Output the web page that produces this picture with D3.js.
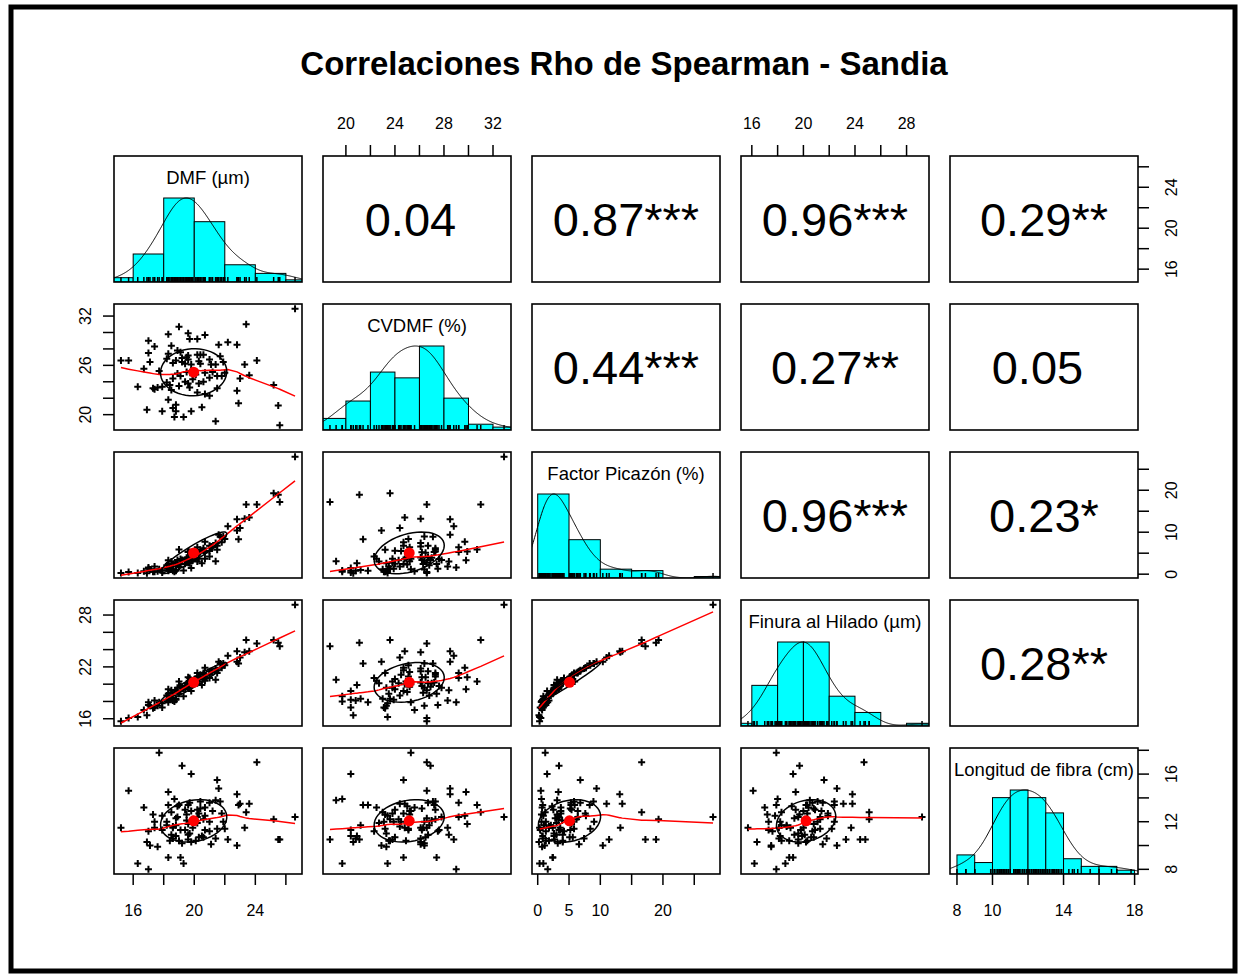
<!DOCTYPE html>
<html>
<head>
<meta charset="utf-8">
<style>
  body { margin: 0; background: #fff; }
  text { font-family: "Liberation Sans", Arial, sans-serif; fill: #000; }
</style>
</head>
<body>
<svg width="1242" height="978"></svg>
<script src="https://d3js.org/d3.v7.min.js"></script>
<script>
// one row per fleece sample, same order in every array
var dmf = [15.2,15.7,16.3,16.7,16.9,17.0,17.0,17.1,17.3,17.4,
  17.4,17.6,17.7,17.9,17.9,18.2,18.2,18.3,18.3,18.3,
  18.4,18.5,18.5,18.6,18.6,18.6,18.7,18.8,18.8,18.8,
  18.9,18.9,19.0,19.0,19.1,19.1,19.2,19.2,19.3,19.4,
  19.4,19.5,19.5,19.6,19.6,19.6,19.6,19.7,19.7,19.8,
  19.8,19.8,19.9,19.9,20.1,20.2,20.2,20.2,20.3,20.3,
  20.4,20.4,20.5,20.6,20.6,20.7,20.7,20.7,21.0,21.0,
  21.0,21.1,21.2,21.4,21.4,21.5,21.5,21.6,21.7,21.8,
  21.9,22.0,22.2,22.8,22.8,22.9,23.0,23.3,23.4,23.6,
  24.1,25.2,25.5,25.6,26.6]
var cvdmf = [26.6,26.6,23.4,25.6,20.6,29.0,27.5,26.4,23.2,28.3,
  23.1,23.3,25.3,23.4,20.4,26.8,23.9,29.8,21.8,27.4,
  23.6,28.4,23.0,26.3,20.8,24.4,19.7,21.2,20.4,26.6,
  27.8,25.0,30.7,23.5,27.6,24.7,26.4,26.9,19.7,24.0,
  26.2,25.2,27.0,29.9,27.2,23.8,26.7,29.2,23.3,25.3,
  20.4,26.1,24.3,24.8,24.9,29.2,27.3,22.7,23.8,26.5,
  27.3,26.2,20.9,27.3,24.0,29.7,25.1,22.5,24.5,22.3,
  26.7,26.1,25.2,26.1,19.2,24.7,23.2,28.5,27.1,24.7,
  26.4,25.1,28.8,28.5,22.9,21.4,24.4,26.1,31.0,24.8,
  26.6,23.6,21.1,18.7,32.9]
var picazon = [0.3,0.5,0.3,0.7,0.2,1.6,1.3,1.1,0.6,1.8,
  0.6,0.7,1.2,0.9,0.4,2.1,1.3,3.3,0.8,2.4,
  1.3,3.0,1.2,2.4,0.8,1.8,0.6,1.0,0.8,2.8,
  3.4,2.3,5.9,1.8,3.6,2.4,3.2,3.4,0.9,2.5,
  3.4,3.1,3.9,5.4,5.3,2.7,4.0,5.3,2.6,3.7,
  1.5,4.0,3.3,3.6,4.0,6.4,5.4,3.0,3.7,5.1,
  5.8,5.2,2.6,6.2,5.6,7.7,5.2,3.7,5.5,4.2,
  6.8,6.6,6.4,7.4,3.1,6.8,5.8,9.4,8.9,7.6,
  9.0,8.4,11.4,13.1,10.4,8.3,11.0,13.2,16.6,13.5,
  16.6,19.3,18.9,17.2,28.0]
var finura = [15.7,16.1,16.2,17.0,16.4,17.9,17.6,17.5,17.2,18.1,
  17.3,17.5,17.9,17.8,17.3,18.7,18.2,19.4,17.9,18.9,
  18.3,19.3,18.3,19.0,18.1,18.7,18.0,18.3,18.2,19.3,
  19.6,19.1,20.3,18.9,19.8,19.2,19.6,19.7,18.6,19.4,
  19.8,19.7,20.1,20.8,20.2,19.6,20.1,20.7,19.6,20.0,
  19.2,20.2,20.1,20.0,20.3,21.3,20.9,20.1,20.3,20.8,
  21.1,20.8,19.9,21.3,20.6,21.9,20.9,20.4,21.1,20.7,
  21.5,21.5,21.4,21.8,20.5,21.6,21.3,22.6,22.4,21.9,
  22.4,22.2,23.3,23.8,22.6,22.4,23.1,23.7,25.1,23.8,
  24.7,25.1,24.8,24.4,29.2]
var longitud = [11.5,14.6,8.5,13.2,10.3,8.0,11.2,10.0,12.6,11.5,
  12.0,9.9,17.8,12.5,11.3,11.7,12.0,14.5,13.4,9.0,
  10.4,10.9,12.8,11.5,10.6,11.6,13.9,11.7,10.8,12.3,
  12.4,13.3,13.4,10.4,11.3,9.0,10.2,16.7,8.5,13.0,
  11.3,12.6,12.1,11.8,13.4,10.5,10.9,13.6,11.0,12.9,
  16.0,10.3,12.2,11.5,10.4,12.4,13.0,11.9,12.7,10.7,
  13.7,13.1,10.8,12.2,10.7,12.5,11.3,13.2,12.0,11.2,
  13.6,10.1,12.9,10.6,13.8,15.5,11.4,14.8,13.7,12.7,
  12.0,11.4,10.5,14.3,10.0,13.4,13.5,11.5,12.8,13.5,
  17.0,12.2,10.5,10.5,12.4]

var varNames = ["DMF (µm)", "CVDMF (%)", "Factor Picazón (%)", "Finura al Hilado (µm)", "Longitud de fibra (cm)"]
var histStep = [2, 2, 5, 2, 1]

// Spearman rho with stars, upper triangle, row by row
var corLabels = {
  "0-1": "0.04", "0-2": "0.87***", "0-3": "0.96***", "0-4": "0.29**",
  "1-2": "0.44***", "1-3": "0.27**", "1-4": "0.05",
  "2-3": "0.96***", "2-4": "0.23*",
  "3-4": "0.28**"
}

// axis ticks and the labels R kept on them
var dmfTicks = [16, 18, 20, 22, 24, 26], dmfLabels = [16, 20, 24]
var cvTicks = [20, 22, 24, 26, 28, 30, 32], cvTopLabels = [20, 24, 28, 32], cvLeftLabels = [20, 26, 32]
var fpTicks = [0, 5, 10, 15, 20, 25], fpBottomLabels = [0, 5, 10, 20], fpRightLabels = [0, 10, 20]
var finTicks = [16, 18, 20, 22, 24, 26, 28], finTopLabels = [16, 20, 24, 28], finLeftLabels = [16, 22, 28]
var lonTicks = [8, 10, 12, 14, 16, 18], lonBottomLabels = [8, 10, 14, 18], lonRightLabels = [8, 12, 16]

var vars = [dmf, cvdmf, picazon, finura, longitud]
var nv = vars.length

var svg = d3.select('svg')
var x0 = 114, y0 = 156, pw = 188, ph = 126, stepX = 209, stepY = 148
function px(j) { return x0 + j * stepX }
function py(i) { return y0 + i * stepY }

function extRange(v) {
  var e = d3.extent(v), r = e[1] - e[0]
  return [e[0] - 0.04 * r, e[1] + 0.04 * r]
}
var xs = vars.map(function (v, j) { return d3.scaleLinear().domain(extRange(v)).range([px(j), px(j) + pw]) })
var ys = vars.map(function (v, i) { return d3.scaleLinear().domain(extRange(v)).range([py(i) + ph, py(i)]) })

// stats helpers
function ranks(v) {
  var idx = d3.range(v.length).sort(function (a, b) { return v[a] - v[b] })
  var r = new Array(v.length)
  for (var k = 0; k < idx.length;) {
    var m = k
    while (m + 1 < idx.length && v[idx[m + 1]] === v[idx[k]]) m++
    for (var q = k; q <= m; q++) r[idx[q]] = (k + m) / 2 + 1
    k = m + 1
  }
  return r
}
function pearson(a, b) {
  var ma = d3.mean(a), mb = d3.mean(b), sab = 0, saa = 0, sbb = 0
  a.forEach(function (v, k) { sab += (v - ma) * (b[k] - mb); saa += (v - ma) * (v - ma); sbb += (b[k] - mb) * (b[k] - mb) })
  return sab / Math.sqrt(saa * sbb)
}
function spearman(a, b) { return pearson(ranks(a), ranks(b)) }

// R's lowess (f = 2/3, 3 robustness passes)
function lowess(xv, yv, f, iter) {
  var ord = d3.range(xv.length).sort(function (a, b) { return xv[a] - xv[b] })
  var x = ord.map(function (k) { return xv[k] }), y = ord.map(function (k) { return yv[k] })
  var n = x.length, ns = Math.max(2, Math.min(n, Math.round(f * n)))
  var rw = x.map(function () { return 1 }), fit = new Array(n)
  var range = x[n - 1] - x[0]
  for (var it = 0; it <= iter; it++) {
    var nleft = 0, nright = ns - 1
    for (var i = 0; i < n; i++) {
      while (nright < n - 1 && x[i] - x[nleft] > x[nright + 1] - x[i]) { nleft++; nright++ }
      var h = Math.max(x[i] - x[nleft], x[nright] - x[i])
      var w = new Array(n).fill(0), a = 0, j
      for (j = 0; j < n; j++) {
        var r = Math.abs(x[j] - x[i])
        if (r <= 0.999 * h || r === 0) {
          w[j] = (r <= 0.001 * h ? 1 : Math.pow(1 - Math.pow(r / h, 3), 3)) * rw[j]
          a += w[j]
        }
      }
      if (a <= 0) { fit[i] = y[i]; continue }
      for (j = 0; j < n; j++) w[j] /= a
      if (h > 0) {
        var mx = 0, c = 0
        for (j = 0; j < n; j++) mx += w[j] * x[j]
        for (j = 0; j < n; j++) c += w[j] * (x[j] - mx) * (x[j] - mx)
        if (Math.sqrt(c) > 0.001 * range) {
          var b = (x[i] - mx) / c
          for (j = 0; j < n; j++) w[j] *= b * (x[j] - mx) + 1
        }
      }
      var s = 0
      for (j = 0; j < n; j++) s += w[j] * y[j]
      fit[i] = s
    }
    if (it === iter) break
    var res = y.map(function (v, k) { return Math.abs(v - fit[k]) })
    var cmad = 6 * d3.median(res)
    if (cmad < 1e-7) break
    rw = res.map(function (r) {
      if (r <= 0.001 * cmad) return 1
      if (r > 0.999 * cmad) return 0
      var u = r / cmad
      return (1 - u * u) * (1 - u * u)
    })
  }
  return x.map(function (v, k) { return [v, fit[k]] })
}

// gaussian kernel, bw.nrd * 1.2, scaled to a peak of 1
function density(v) {
  var n = v.length, sd = d3.deviation(v), sorted = v.slice().sort(d3.ascending)
  var iqr = d3.quantile(sorted, 0.75) - d3.quantile(sorted, 0.25)
  var bw = 1.2 * 1.06 * Math.min(sd, iqr / 1.34) * Math.pow(n, -0.2)
  var e = d3.extent(v), lo = e[0] - 3 * bw, hi = e[1] + 3 * bw
  var pts = d3.range(512).map(function (k) {
    var t = lo + (hi - lo) * k / 511
    var s = d3.sum(v, function (d) { var z = (t - d) / bw; return Math.exp(-0.5 * z * z) })
    return [t, s]
  })
  var mx = d3.max(pts, function (p) { return p[1] })
  return pts.map(function (p) { return [p[0], p[1] / mx] })
}

// clip paths, one per panel
var defs = svg.append('defs')
for (var i = 0; i < nv; i++) for (var j = 0; j < nv; j++) {
  defs.append('clipPath').attr('id', 'c' + i + j)
    .append('rect').attr('x', px(j)).attr('y', py(i)).attr('width', pw).attr('height', ph)
}

var plus = 'M-3.5,0H3.5M0,-3.5V3.5'

for (var i = 0; i < nv; i++) {
  for (var j = 0; j < nv; j++) {
    var g = svg.append('g').attr('clip-path', 'url(#c' + i + j + ')')
    if (i === j) {
      // histogram + density + rug
      var v = vars[i], st = histStep[i]
      var e = d3.extent(v)
      var start = Math.floor(e[0] / st) * st, end = Math.ceil(e[1] / st) * st
      var breaks = d3.range(start, end + st / 2, st)
      var counts = breaks.slice(0, -1).map(function (b, k) {
        return v.filter(function (d) { return (d > b || (k === 0 && d >= b)) && d <= breaks[k + 1] }).length
      })
      var cmax = d3.max(counts)
      var hy = d3.scaleLinear().domain([0, 1.5]).range([py(i) + ph, py(i)])
      var sx = xs[i]
      g.selectAll('rect.bar').data(counts).enter().append('rect')
        .attr('x', function (c, k) { return sx(breaks[k]) })
        .attr('width', function (c, k) { return sx(breaks[k + 1]) - sx(breaks[k]) })
        .attr('y', function (c) { return hy(c / cmax) })
        .attr('height', function (c) { return hy(0) - hy(c / cmax) })
        .attr('fill', '#00ffff').attr('stroke', '#000').attr('stroke-width', 1)
      g.append('path').datum(density(v))
        .attr('d', d3.line().x(function (p) { return sx(p[0]) }).y(function (p) { return hy(p[1]) }))
        .attr('fill', 'none').attr('stroke', '#000').attr('stroke-width', 1)
      g.selectAll('line.rug').data(v).enter().append('line')
        .attr('x1', function (d) { return sx(d) }).attr('x2', function (d) { return sx(d) })
        .attr('y1', py(i) + ph).attr('y2', py(i) + ph - 5)
        .attr('stroke', '#000').attr('stroke-width', 1.5)
      svg.append('text').attr('x', px(j) + pw / 2).attr('y', py(i) + 28)
        .attr('text-anchor', 'middle').attr('font-size', 18.5).text(varNames[i])
    } else if (i < j) {
      var lab = corLabels[i + '-' + j]
      // R pads a non-significant value with a blank star slot
      if (lab.indexOf('*') < 0) lab += '\u00a0'
      svg.append('text').attr('x', px(j) + pw / 2).attr('y', py(i) + ph / 2)
        .attr('dy', '0.36em').attr('text-anchor', 'middle').attr('font-size', 47)
        .text(lab)
    } else {
      var vx = vars[j], vy = vars[i], sx2 = xs[j], sy2 = ys[i]
      g.selectAll('path.pt').data(vx).enter().append('path')
        .attr('d', plus)
        .attr('transform', function (d, k) { return 'translate(' + sx2(d) + ',' + sy2(vy[k]) + ')' })
        .attr('stroke', '#000').attr('stroke-width', 2)
      g.append('path').datum(lowess(vx, vy, 2 / 3, 3))
        .attr('d', d3.line().x(function (p) { return sx2(p[0]) }).y(function (p) { return sy2(p[1]) }))
        .attr('fill', 'none').attr('stroke', '#ff0000').attr('stroke-width', 1.5)
      // correlation ellipse at one sd
      var mxv = d3.mean(vx), myv = d3.mean(vy), sdx = d3.deviation(vx), sdy = d3.deviation(vy)
      var r = spearman(vx, vy)
      var th = (r < 0 ? -1 : 1) / Math.SQRT2
      var ell = d3.range(52).map(function (k) {
        var a = k * 2 * Math.PI / 51, c = Math.cos(a), s = Math.sin(a)
        var ex = c * Math.sqrt(1 + r) * th - s * Math.sqrt(1 - r) * th
        var ey = c * Math.sqrt(1 + r) * th + s * Math.sqrt(1 - r) * th
        return [mxv + ex * sdx, myv + ey * sdy]
      })
      g.append('path').datum(ell)
        .attr('d', d3.line().x(function (p) { return sx2(p[0]) }).y(function (p) { return sy2(p[1]) }))
        .attr('fill', 'none').attr('stroke', '#000').attr('stroke-width', 1.5)
      g.append('circle').attr('cx', sx2(mxv)).attr('cy', sy2(myv)).attr('r', 5.5).attr('fill', '#ff0000')
    }
    svg.append('rect').attr('x', px(j)).attr('y', py(i)).attr('width', pw).attr('height', ph)
      .attr('fill', 'none').attr('stroke', '#000').attr('stroke-width', 1.6)
  }
}

// outer axes, R style: bottom for odd columns, top for even, right for odd rows, left for even
function axisH(j, ticks, labels, side) {
  var s = xs[j], yb = side === 'bottom' ? py(nv - 1) + ph : py(0)
  var dir = side === 'bottom' ? 1 : -1
  ticks.forEach(function (t) {
    svg.append('line').attr('x1', s(t)).attr('x2', s(t)).attr('y1', yb).attr('y2', yb + dir * 11)
      .attr('stroke', '#000').attr('stroke-width', 1.5)
  })
  labels.forEach(function (t) {
    svg.append('text').attr('x', s(t)).attr('y', side === 'bottom' ? yb + 42 : yb - 27)
      .attr('text-anchor', 'middle').attr('font-size', 16).text(t)
  })
}
function axisV(i, ticks, labels, side) {
  var s = ys[i], xb = side === 'left' ? px(0) : px(nv - 1) + pw
  var dir = side === 'left' ? -1 : 1
  ticks.forEach(function (t) {
    svg.append('line').attr('y1', s(t)).attr('y2', s(t)).attr('x1', xb).attr('x2', xb + dir * 11)
      .attr('stroke', '#000').attr('stroke-width', 1.5)
  })
  labels.forEach(function (t) {
    var lx = side === 'left' ? xb - 23 : xb + 39
    svg.append('text').attr('transform', 'translate(' + lx + ',' + s(t) + ') rotate(-90)')
      .attr('text-anchor', 'middle').attr('font-size', 16).text(t)
  })
}
axisH(0, dmfTicks, dmfLabels, 'bottom')
axisH(1, cvTicks, cvTopLabels, 'top')
axisH(2, fpTicks, fpBottomLabels, 'bottom')
axisH(3, finTicks, finTopLabels, 'top')
axisH(4, lonTicks, lonBottomLabels, 'bottom')
axisV(0, dmfTicks, dmfLabels, 'right')
axisV(1, cvTicks, cvLeftLabels, 'left')
axisV(2, fpTicks, fpRightLabels, 'right')
axisV(3, finTicks, finLeftLabels, 'left')
axisV(4, lonTicks, lonRightLabels, 'right')

svg.append('text').attr('x', 624).attr('y', 75).attr('text-anchor', 'middle')
  .attr('font-size', 33).attr('font-weight', 'bold')
  .text('Correlaciones Rho de Spearman - Sandia')

// black frame round the whole figure
svg.append('rect').attr('x', 11).attr('y', 7).attr('width', 1224).attr('height', 964)
  .attr('fill', 'none').attr('stroke', '#000').attr('stroke-width', 5)
</script>
</body>
</html>
